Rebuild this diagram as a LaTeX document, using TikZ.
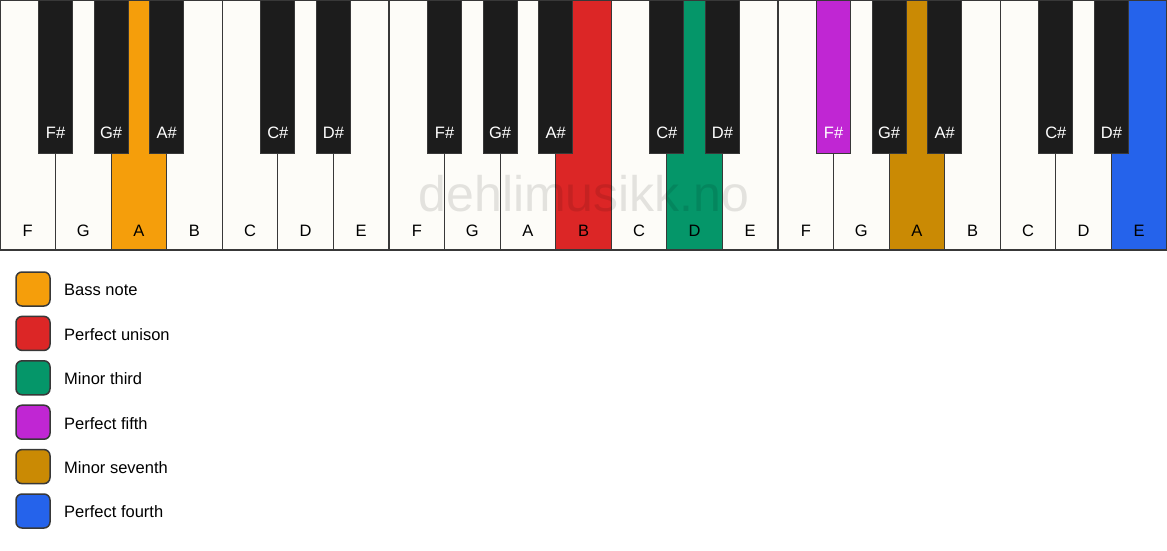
\documentclass[tikz,border=0pt]{standalone}
\usepackage{fontspec}
\setmainfont{Liberation Sans}
\usetikzlibrary{positioning}
\definecolor{ivory}{HTML}{FDFCF8}
\definecolor{keyblack}{HTML}{1C1C1C}
\definecolor{keyline}{HTML}{383838}
\definecolor{bassc}{HTML}{F59E0B}
\definecolor{unisonc}{HTML}{DC2626}
\definecolor{thirdc}{HTML}{059669}
\definecolor{fifthc}{HTML}{C026D3}
\definecolor{seventhc}{HTML}{CA8A04}
\definecolor{fourthc}{HTML}{2563EB}
\newcommand\keyfont{\fontsize{16.5}{20}\selectfont}
\tikzset{
  whitekey/.style={draw=keyline, line width=1.2pt, fill=ivory, anchor=north west,
    inner sep=0pt, outer sep=0pt, minimum width=55.571pt,
    text height=236pt, text depth=14pt, font=\keyfont},
  blackkey/.style={draw=keyline, line width=1pt, fill=keyblack, text=white, anchor=north,
    inner sep=0pt, outer sep=0pt, minimum width=34pt,
    text height=138.5pt, text depth=14.5pt, font=\keyfont},
  swatch/.style={draw=keyline, line width=1.5pt, rounded corners=6pt,
    minimum size=34pt, inner sep=0pt, outer sep=0pt},
  legendtext/.style={inner sep=0pt, text height=11.8pt, text depth=0pt, font=\keyfont},
  watermark/.style={anchor=base, text=black, opacity=0.1,
    font=\fontsize{50}{60}\selectfont}
}
\begin{document}
\begin{tikzpicture}[x=1pt, y=-1pt]
  \useasboundingbox[fill=white] (0,0) rectangle (1167,550);
  % white keys
  \path
    (0,0) node[whitekey] (w0){F}
    (55.571,0) node[whitekey] (w1){G}
    (111.143,0) node[whitekey, fill=bassc] (w2){A}
    (166.714,0) node[whitekey] (w3){B}
    (222.286,0) node[whitekey] (w4){C}
    (277.857,0) node[whitekey] (w5){D}
    (333.429,0) node[whitekey] (w6){E}
    (389.0,0) node[whitekey] (w7){F}
    (444.571,0) node[whitekey] (w8){G}
    (500.143,0) node[whitekey] (w9){A}
    (555.714,0) node[whitekey, fill=unisonc] (w10){B}
    (611.286,0) node[whitekey] (w11){C}
    (666.857,0) node[whitekey, fill=thirdc] (w12){D}
    (722.429,0) node[whitekey] (w13){E}
    (778.0,0) node[whitekey] (w14){F}
    (833.571,0) node[whitekey] (w15){G}
    (889.143,0) node[whitekey, fill=seventhc] (w16){A}
    (944.714,0) node[whitekey] (w17){B}
    (1000.286,0) node[whitekey] (w18){C}
    (1055.857,0) node[whitekey] (w19){D}
    (1111.429,0) node[whitekey, fill=fourthc] (w20){E};
  % black keys
  \path
    (55.571,0) node[blackkey] (b1){F\#}
    (111.143,0) node[blackkey] (b2){G\#}
    (166.714,0) node[blackkey] (b3){A\#}
    (277.857,0) node[blackkey] (b5){C\#}
    (333.429,0) node[blackkey] (b6){D\#}
    (444.571,0) node[blackkey] (b8){F\#}
    (500.143,0) node[blackkey] (b9){G\#}
    (555.714,0) node[blackkey] (b10){A\#}
    (666.857,0) node[blackkey] (b12){C\#}
    (722.429,0) node[blackkey] (b13){D\#}
    (833.571,0) node[blackkey, fill=fifthc] (b15){F\#}
    (889.143,0) node[blackkey] (b16){G\#}
    (944.714,0) node[blackkey] (b17){A\#}
    (1055.857,0) node[blackkey] (b19){C\#}
    (1111.429,0) node[blackkey] (b20){D\#};
  \node[watermark] (mark) at (584,211.5) {dehlimusikk.no};
  % legend
  \node[swatch, fill=bassc] (bass) at (33,289) {};
  \node[swatch, fill=unisonc, below=10.4pt of bass] (unison) {};
  \node[swatch, fill=thirdc, below=10.4pt of unison] (third) {};
  \node[swatch, fill=fifthc, below=10.4pt of third] (fifth) {};
  \node[swatch, fill=seventhc, below=10.4pt of fifth] (seventh) {};
  \node[swatch, fill=fourthc, below=10.4pt of seventh] (fourth) {};
  \node[legendtext, right=14pt of bass, yshift=-1pt] (basslabel) {Bass note};
  \node[legendtext, right=14pt of unison, yshift=-1pt] (unisonlabel) {Perfect unison};
  \node[legendtext, right=14pt of third, yshift=-1pt] (thirdlabel) {Minor third};
  \node[legendtext, right=14pt of fifth, yshift=-1pt] (fifthlabel) {Perfect fifth};
  \node[legendtext, right=14pt of seventh, yshift=-1pt] (seventhlabel) {Minor seventh};
  \node[legendtext, right=14pt of fourth, yshift=-1pt] (fourthlabel) {Perfect fourth};
\end{tikzpicture}
\end{document}
